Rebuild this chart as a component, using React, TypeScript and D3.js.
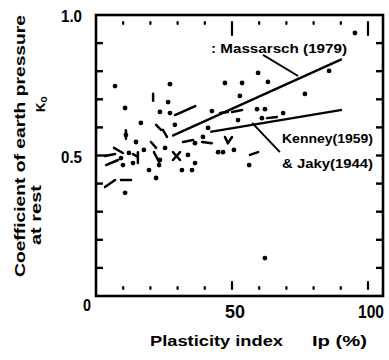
import * as d3 from "d3";

const width = 389;
const height = 360;
const margin = { top: 15, right: 6, bottom: 64, left: 96 };

// plasticity index Ip (%) and K0
const dotIp = [95.2, 85.7, 76.8, 47.4, 53.7, 59.6, 63.2, 52.9, 27.2, 7.0, 10.7, 26.5, 23.5, 27.2, 41.2, 59.2, 62.1, 68.8, 61.0, 52.2, 16.5, 29.0, 11.0, 14.7, 12.1, 17.6, 9.2, 9.9, 13.6, 19.5, 23.2, 22.1, 10.7, 39.3, 36.4, 25.4, 33.8, 36.4, 35.3, 44.9, 46.7, 50.7, 23.5, 31.6, 56.3, 62.1, 42.6];
const dotK = [0.936, 0.801, 0.719, 0.758, 0.758, 0.794, 0.762, 0.712, 0.754, 0.747, 0.669, 0.690, 0.655, 0.651, 0.598, 0.665, 0.665, 0.651, 0.633, 0.626, 0.616, 0.609, 0.573, 0.548, 0.509, 0.520, 0.491, 0.466, 0.473, 0.448, 0.466, 0.420, 0.367, 0.566, 0.544, 0.527, 0.502, 0.473, 0.448, 0.512, 0.512, 0.520, 0.484, 0.448, 0.466, 0.135, 0.658];

// short dash-like marks: [ip1, k1, ip2, k2]
const dashes = [
  [21.0, 0.72, 21.0, 0.695],
  [29.0, 0.644, 36.5, 0.676],
  [22.1, 0.609, 23.9, 0.591],
  [20.2, 0.548, 22.1, 0.527],
  [6.6, 0.527, 9.9, 0.509],
  [15.4, 0.512, 15.4, 0.473],
  [13.6, 0.505, 15.4, 0.495],
  [21.3, 0.512, 23.2, 0.477],
  [3.7, 0.466, 8.1, 0.484],
  [3.3, 0.388, 7.0, 0.413],
  [9.2, 0.413, 12.9, 0.413],
  [32.0, 0.548, 35.7, 0.555],
  [39.0, 0.548, 42.6, 0.544],
  [24.6, 0.591, 26.1, 0.566],
  [28.3, 0.512, 30.9, 0.484],
  [30.9, 0.512, 28.3, 0.484],
  [45.6, 0.651, 48.5, 0.655],
  [50.0, 0.655, 53.7, 0.662],
  [62.9, 0.633, 66.5, 0.637],
  [56.6, 0.502, 59.6, 0.512],
  [47.4, 0.566, 48.5, 0.544],
  [48.5, 0.544, 50.0, 0.566],
  [3.3, 0.498, 7.0, 0.505],
  [11.0, 0.59, 11.0, 0.56],
];

// trend lines
const massarsch = [[28, 0.57], [90.4, 0.843]];
const kenney = [[42, 0.584], [90.4, 0.662]];
const massarschLeader = [[61.4, 0.858], [74.3, 0.783]];
const kenneyLeader = [[57.4, 0.616], [67.6, 0.512]];

const xTicks = [10, 20, 30, 40, 50, 60, 70, 80, 90, 100];
const yTicks = [0.1, 0.2, 0.3, 0.4, 0.5, 0.6, 0.7, 0.8, 0.9];
const yLabels = ["0", "0.5", "1.0"];
const xLabels = ["50", "100"];

const x = d3.scaleLinear().domain([0, 100]).range([margin.left, 368]);
const y = d3.scaleLinear().domain([0, 1]).range([height - margin.bottom, margin.top]);
const right = width - margin.right;
const bottom = height - margin.bottom;

const font = "'Liberation Sans', Arial, sans-serif";
const line = d3.line<number[]>().x(d => x(d[0])).y(d => y(d[1]));

export default function App() {
  return (
    <svg width={width} height={height} style={{ position: "absolute", left: 0, top: 0, background: "#fff" }}>
      <g fontFamily={font} fontWeight="bold" fill="#000">
        {/* frame */}
        <rect x={margin.left} y={margin.top} width={right - margin.left} height={bottom - margin.top} fill="none" stroke="#000" strokeWidth={2.6} />

        {/* left and right ticks */}
        {yTicks.map(t => (
          <g key={t} stroke="#000" strokeWidth={2.4}>
            <line x1={margin.left} x2={margin.left + (t === 0.5 ? 11 : 7)} y1={y(t)} y2={y(t)} />
            <line x1={right} x2={right - 7} y1={y(t)} y2={y(t)} />
          </g>
        ))}

        {/* top and bottom ticks (dotted in the scan) */}
        {xTicks.map(t => {
          const long = t % 50 === 0;
          return (
            <g key={t} stroke="#000" strokeWidth={2.2} strokeLinecap="round">
              <line x1={x(t)} x2={x(t)} y1={long ? bottom - 14 : bottom - 9} y2={bottom - 7} />
              <line x1={x(t)} x2={x(t)} y1={margin.top + 7} y2={long ? margin.top + 20 : margin.top + 9} />
            </g>
          );
        })}

        {/* tick labels */}
        {yLabels.map(l => (
          <text key={l} x={l === "0" ? 91 : 82} y={l === "0" ? 311 : y(+l) + 7} textAnchor="end" fontSize={17}
            textLength={l === "0" ? 8 : 21} lengthAdjust="spacingAndGlyphs">{l}</text>
        ))}
        {xLabels.map(l => (
          <text key={l} x={x(+l) + 3} y={318} textAnchor="middle" fontSize={18}
            textLength={l === "50" ? 20 : 26} lengthAdjust="spacingAndGlyphs">{l}</text>
        ))}

        {/* axis titles */}
        <text x={150} y={346} fontSize={14} textLength={133} lengthAdjust="spacingAndGlyphs">Plasticity index</text>
        <text x={312} y={346} fontSize={14} textLength={55} lengthAdjust="spacingAndGlyphs">Ip (%)</text>
        <text transform="translate(25,277) rotate(-90)" fontSize={14} textLength={262} lengthAdjust="spacingAndGlyphs">Coefficient of earth pressure</text>
        <text transform="translate(41,245) rotate(-90)" fontSize={14} textLength={60} lengthAdjust="spacingAndGlyphs">at rest</text>
        <text transform="translate(45,112) rotate(-90)" fontSize={13}>K<tspan fontSize={10} dy={2}>o</tspan></text>

        {/* data */}
        {dotIp.map((ip, i) => (
          <circle key={i} cx={x(ip)} cy={y(dotK[i])} r={2.4} />
        ))}
        {dashes.map((d, i) => (
          <line key={i} x1={x(d[0])} y1={y(d[1])} x2={x(d[2])} y2={y(d[3])} stroke="#000" strokeWidth={2.5} strokeLinecap="round" />
        ))}

        {/* relations */}
        <g fill="none" stroke="#000" strokeWidth={2.3}>
          <path d={line(massarsch) ?? ""} />
          <path d={line(kenney) ?? ""} />
          <path d={line(massarschLeader) ?? ""} strokeWidth={1.9} />
          <path d={line(kenneyLeader) ?? ""} strokeWidth={1.9} />
        </g>
        <text x={211} y={53} fontSize={12} textLength={136} lengthAdjust="spacingAndGlyphs">: Massarsch (1979)</text>
        <text x={282} y={143} fontSize={12} textLength={91} lengthAdjust="spacingAndGlyphs">Kenney(1959)</text>
        <text x={282} y={168} fontSize={12} textLength={91} lengthAdjust="spacingAndGlyphs">&amp; Jaky(1944)</text>
      </g>
    </svg>
  );
}
